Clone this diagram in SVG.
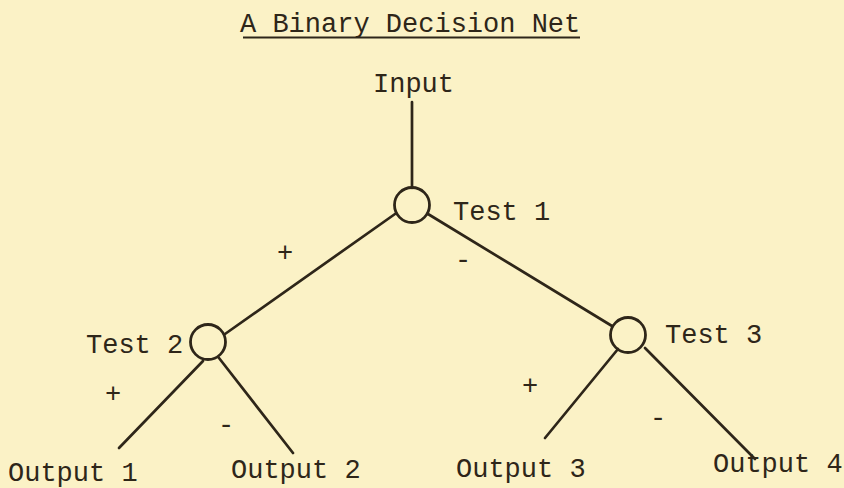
<svg xmlns="http://www.w3.org/2000/svg" width="844" height="488" viewBox="0 0 844 488">
<style>
text{font-family:"Liberation Mono","Courier New",monospace;font-size:27px;fill:#2e2619}
.e{stroke:#2e2619;stroke-width:2.7;fill:none;stroke-linecap:round}
.n{stroke:#2e2619;stroke-width:2.8;fill:none}
</style>
<rect width="844" height="488" fill="#fbf2c6"/>
<g id="title">
<text x="240" y="32">A Binary Decision Net</text>
<line x1="243" y1="37.5" x2="580" y2="37.5" stroke="#2e2619" stroke-width="2"/>
</g>
<g id="connectors">
<line class="e" x1="412" y1="102" x2="412" y2="188"/>
<line class="e" x1="395" y1="214" x2="225" y2="334"/>
<line class="e" x1="428" y1="214" x2="612" y2="326"/>
<line class="e" x1="203" y1="361" x2="119" y2="448"/>
<line class="e" x1="219" y1="358" x2="293" y2="453"/>
<line class="e" x1="618" y1="349" x2="545" y2="438"/>
<line class="e" x1="645" y1="348" x2="755" y2="459"/>
<text x="277" y="261">+</text>
<text x="455" y="268">-</text>
<text x="105" y="402">+</text>
<text x="218" y="433">-</text>
<text x="522" y="394">+</text>
<text x="650" y="426">-</text>
</g>
<g id="input"><text x="373" y="92">Input</text></g>
<g id="test1"><circle class="n" cx="412" cy="205" r="17.5"/><text x="453" y="220">Test 1</text></g>
<g id="test2"><circle class="n" cx="208" cy="342" r="17.5"/><text x="86" y="353">Test 2</text></g>
<g id="test3"><circle class="n" cx="628" cy="335" r="17.5"/><text x="665" y="343">Test 3</text></g>
<g id="output1"><text x="8" y="481">Output 1</text></g>
<g id="output2"><text x="231" y="478">Output 2</text></g>
<g id="output3"><text x="456" y="477">Output 3</text></g>
<g id="output4"><text x="713" y="472">Output 4</text></g>
</svg>
